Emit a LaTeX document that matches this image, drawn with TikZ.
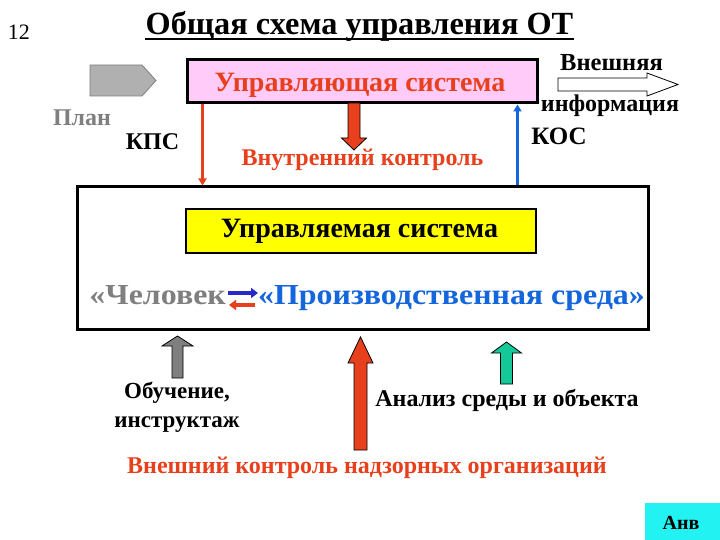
\documentclass[tikz,border=0pt]{standalone}
\usepackage{fontspec}
\setmainfont{Liberation Serif}
\usetikzlibrary{arrows.meta,calc}
\definecolor{cred}{HTML}{E8401C}
\definecolor{cblue}{HTML}{1466DC}
\definecolor{cdblue}{HTML}{2828C8}
\definecolor{cpink}{HTML}{FFCCFA}
\definecolor{cgray}{HTML}{7F7F7F}
\definecolor{clgray}{HTML}{B0B0B0}
\definecolor{cgreen}{HTML}{14C898}
\definecolor{ccyan}{HTML}{22F2F2}
\definecolor{cyel}{HTML}{FFFF00}
\newcommand{\blockarr}[7]{\draw[#1] (#2-#6,#3) -- (#2-#6,#4) -- (#2-#7,#4) -- (#2,#5) -- (#2+#7,#4) -- (#2+#6,#4) -- (#2+#6,#3) -- cycle;}
\newcommand{\wide}[1]{\scalebox{1.1}[1]{#1}}
\begin{document}
\begin{tikzpicture}[x=1pt,y=-1pt,
  txt/.style={font=\fontsize{#1}{#1}\selectfont\bfseries, inner sep=0pt},
  box/.style={draw=black, inner sep=0pt},
  thinarr/.style={line width=2.5pt, -{Triangle[length=7pt,width=8pt]}},
  pairarr/.style={line width=4pt, -{Triangle[length=7pt,width=10pt]}},
  blk/.style={draw=black, line width=0.8pt}]
\useasboundingbox (0,0) rectangle (720,540);
\fill[white] (0,0) rectangle (720,540);

% number and title
\node[font=\fontsize{22}{22}\selectfont, inner sep=0pt] (num) at (19,32) {12};
\node[txt=32.3, anchor=base] (title) at (359.5,35) {Общая схема управления ОТ};
\draw[line width=2pt] ($(title.base west)+(0,4.5)$) -- ($(title.base east)+(0,4.5)$);

% controlling system
\node[box, line width=3pt, fill=cpink, minimum width=350pt, minimum height=43pt] (ctrl) at (362,81.5) {};
\node[txt=28, text=cred, anchor=base] (ctrltxt) at (360,92) {Управляющая система};

% plan arrow
\coordinate (planarr) at (90,65);
\draw[fill=clgray, draw=cgray, line width=0.8pt] (planarr) -- ++(52,0) -- ++(14,15.5) -- ++(-14,15.5) -- ++(-52,0) -- cycle;
\node[txt=24, text=cgray] (plan) at (82,118) {План};
\node[txt=24] (kps) at (152.5,142) {КПС};

% external info
\node[txt=24.5] (ext1) at (611.5,63) {Внешняя};
\node[txt=24, anchor=base] (ext2) at (610,112) {информация};
\coordinate (extarr) at (558,78);
\draw[fill=white, draw=black, line width=0.8pt] (extarr) -- ++(89,0) -- ++(0,-5) -- ++(31,11.5) -- ++(-31,11.5) -- ++(0,-5) -- ++(-89,0) -- cycle;
\node[txt=25] (kos) at (559,136) {КОС};

% internal control
\blockarr{blk, fill=cred}{354}{103}{138}{150}{6}{12.5}
\node[txt=24, text=cred, anchor=base] (inner) at (362.5,166) {Внутренний контроль};

% controlled system
\node[box, line width=3pt, minimum width=571pt, minimum height=142pt] (sys) at (362.5,258) {};
\node[box, line width=2pt, fill=cyel, minimum width=350pt, minimum height=44pt] (managed) at (361,231) {};
\node[txt=28] (managedtxt) at (359.5,231) {Управляемая система};

% KPS / KOS connectors
\draw[cred, thinarr] ([xshift=17pt]ctrl.south west) -- ([xshift=17pt]ctrl.south west |- sys.north);
\draw[cblue, thinarr] ([xshift=-21pt]ctrl.south east |- sys.north) -- ([xshift=-21pt]ctrl.south east);

% man - environment
\node[txt=29, text=cgray, anchor=base east] (man) at (226,304) {\wide{«Человек}};
\node[txt=29, text=cblue, anchor=base west] (env) at (258,304) {\wide{«Производственная среда»}};
\draw[cdblue, pairarr] ([yshift=11pt,xshift=2pt]man.base east) -- ([yshift=11pt]env.base west);
\draw[cred, pairarr] ([yshift=-1pt,xshift=-3pt]env.base west) -- ([yshift=-1pt,xshift=3pt]man.base east);

% lower arrows
\blockarr{blk, fill=cgray}{177.5}{378}{346}{336}{5.5}{15.5}
\blockarr{blk, fill=cred}{360.5}{450}{363}{337}{6.5}{12.5}
\blockarr{blk, fill=cgreen}{506.5}{384}{353}{342}{6}{15}

\node[txt=23, anchor=base] (train1) at (177,398) {Обучение,};
\node[txt=23, anchor=base] (train2) at (177,427) {инструктаж};
\node[txt=24, anchor=base] (anal) at (507,406) {Анализ среды и объекта};
\node[txt=24, text=cred] (extctl) at (367,468) {Внешний контроль надзорных организаций};

% corner box
\node[box, draw=none, fill=ccyan, minimum width=75pt, minimum height=37pt] (anv) at (682.5,521.5) {};
\node[txt=20] (anvtxt) at (681,523) {Анв};
\end{tikzpicture}
\end{document}
